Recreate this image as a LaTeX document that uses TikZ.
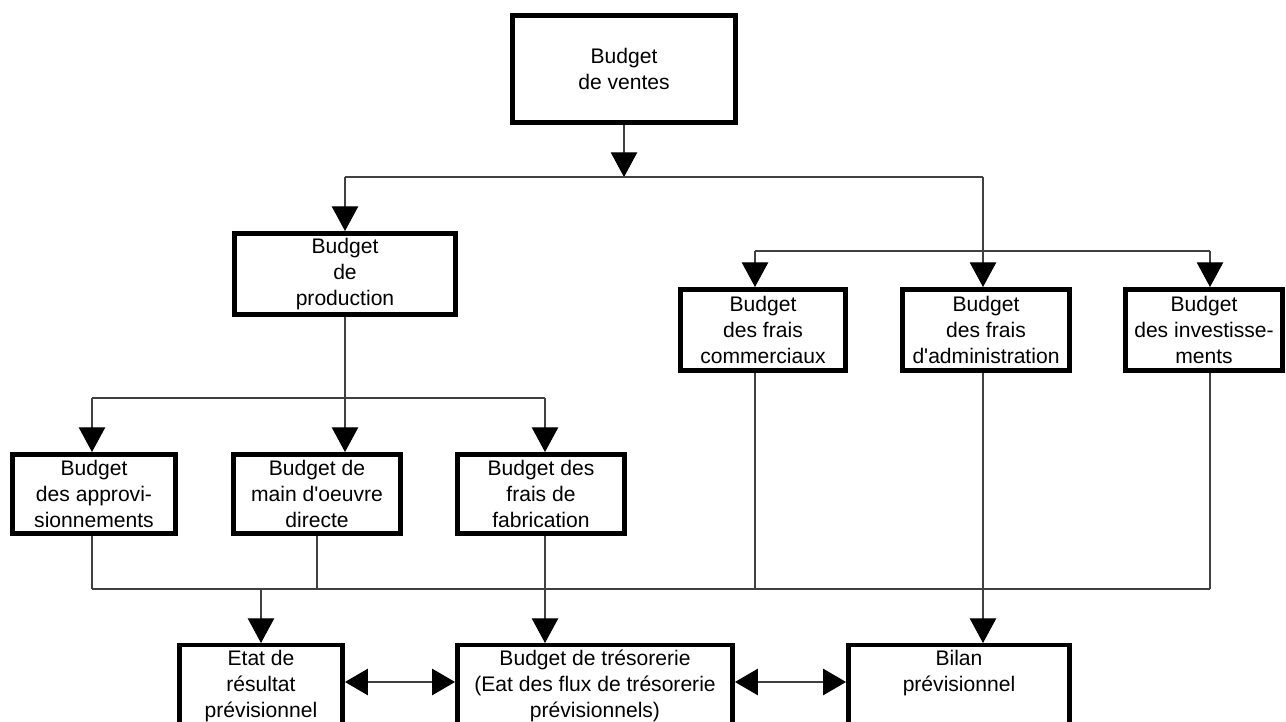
\documentclass[tikz,border=0pt]{standalone}
\usepackage{fontspec}
\setmainfont{Liberation Sans}[Ligatures=TeXOff]
\usetikzlibrary{arrows.meta,positioning}

\newcommand{\toplines}[1]{\begin{tabular}[t]{@{}c@{}}#1\end{tabular}}

\begin{document}
\begin{tikzpicture}[x=0.02cm, y=-0.02cm,
  every node/.style={font=\fontsize{12}{15}\selectfont},
  budget/.style={rectangle, draw=black, line width=0.09cm, align=center, inner sep=2pt},
  endbox/.style={budget, anchor=north, text height=9.4pt, text depth=52pt},
  link/.style={line width=0.6pt, color=black!75},
  arrow/.style={link, -{Triangle[length=14pt, width=15pt, color=black]}},
  biarrow/.style={link, {Triangle[length=13pt, width=15pt, color=black]}-{Triangle[length=13pt, width=15pt, color=black]}},
]
\useasboundingbox (0,0) rectangle (1286,722);
\clip (0,0) rectangle (1286,722);

% Sales budget at top
\node[budget, minimum width=4.47cm, minimum height=2.15cm] (ventes) at (624,69) {Budget\\de ventes};

% Second level
\node[budget, minimum width=4.43cm, minimum height=1.63cm] (prod) at (345,274) {Budget\\de\\production};
\node[budget, minimum width=3.31cm, minimum height=1.63cm] (comm) at (763,330) {Budget\\des frais\\commerciaux};
\node[budget, minimum width=3.35cm, minimum height=1.63cm] (admin) at (986,330) {Budget\\des frais\\d'administration};
\node[budget, minimum width=3.15cm, minimum height=1.63cm] (invest) at (1204,330) {Budget\\des investisse-\\ments};

% Production sub-budgets
\node[budget, minimum width=3.27cm, minimum height=1.59cm] (approv) at (94,494) {Budget\\des approvi-\\sionnements};
\node[budget, minimum width=3.35cm, minimum height=1.59cm] (main) at (317,494) {Budget de\\main d'oeuvre\\directe};
\node[budget, minimum width=3.35cm, minimum height=1.59cm] (fab) at (541,494) {Budget des\\frais de\\fabrication};

% Forecast statements at bottom
\node[endbox, minimum width=3.27cm] (etat) at (261,643) {\toplines{Etat de\\résultat\\prévisionnel}};
\node[endbox, minimum width=5.51cm] (treso) at (595,643) {\toplines{Budget de trésorerie\\(Eat des flux de trésorerie\\prévisionnels)}};
\node[endbox, minimum width=4.43cm] (bilan) at (959,643) {\toplines{Bilan\\prévisionnel}};

% Junction points
\coordinate (c1) at (624,177);
\coordinate (c1l) at (345,177);
\coordinate (c1r) at (983,177);
\coordinate (c2l) at (755,251);
\coordinate (c2r) at (1210,251);
\coordinate (c3) at (345,398);
\coordinate (c3l) at (92,398);
\coordinate (c3r) at (545,398);
\coordinate (busl) at (92,589);
\coordinate (busr) at (1210,589);
\coordinate (mid) at (0,682);

% From sales budget
\draw[arrow] (ventes) -- (c1);
\draw[link] (c1l) -- (c1r);
\draw[arrow] (c1l) -- (prod);
\draw[arrow] (c1r) -- (c1r |- admin.north);
\draw[link] (c2l) -- (c2r);
\draw[arrow] (c2l) -- (c2l |- comm.north);
\draw[arrow] (c2r) -- (c2r |- invest.north);

% From production budget
\draw[link] (prod) -- (c3);
\draw[link] (c3l) -- (c3r);
\draw[arrow] (c3l) -- (c3l |- approv.north);
\draw[arrow] (c3) -- (c3 |- main.north);
\draw[arrow] (c3r) -- (c3r |- fab.north);

% Collecting line
\draw[link] (busl) -- (busr);
\draw[link] (busl |- approv.south) -- (busl);
\draw[link] (main.south) -- (main.south |- busl);
\draw[link] (c2l |- comm.south) -- (c2l |- busl);
\draw[link] (c2r |- invest.south) -- (busr);
\draw[arrow] (c3r |- fab.south) -- (c3r |- treso.north);
\draw[arrow] (c1r |- admin.south) -- (c1r |- bilan.north);
\draw[arrow] (etat.north |- busl) -- (etat.north);

% Two-way links
\draw[biarrow] (mid -| etat.east) -- (mid -| treso.west);
\draw[biarrow] (mid -| treso.east) -- (mid -| bilan.west);

\end{tikzpicture}
\end{document}
